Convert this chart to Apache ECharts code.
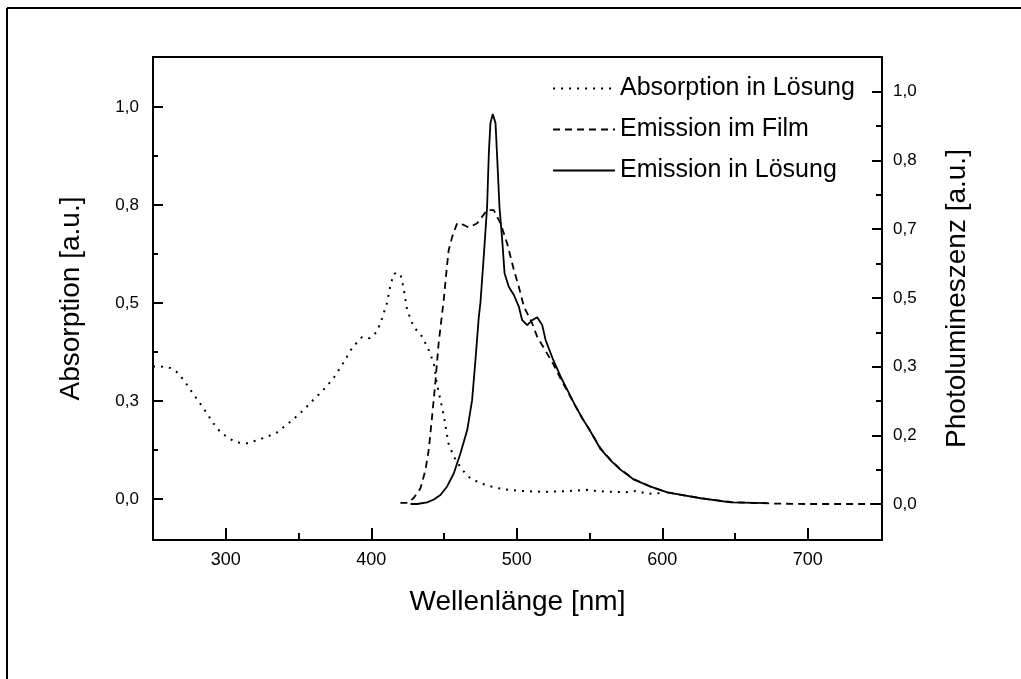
<!DOCTYPE html>
<html>
<head>
<meta charset="utf-8">
<script src="https://cdn.jsdelivr.net/npm/echarts@6/dist/echarts.min.js"></script>
<style>
    html, body { margin: 0; padding: 0; background: #fff; }
    #chart { width: 1021px; height: 679px; }
</style>
</head>
<body>
<div id="chart"></div>
<script>
    // Absorption in Lösung (linke Achse)
    var absX = [250, 255, 262, 266, 271, 278, 284.6, 291.5, 296, 301.8, 307.6, 314.5, 321, 328, 335, 345.5, 353.5, 359, 367, 374, 380, 386.8, 393.6, 399, 404, 407.4, 410.8, 413, 415.4, 418, 420.4, 422, 424.6, 429, 435, 439.5, 443, 445, 447.5, 450, 453, 456.7, 462.5, 468, 475, 482, 490, 500, 510, 520, 530, 540, 548, 555, 565, 575, 582, 590, 600];
    var absY = [0.338, 0.338, 0.334, 0.325, 0.304, 0.266, 0.232, 0.193, 0.172, 0.155, 0.144, 0.142, 0.149, 0.158, 0.169, 0.200, 0.227, 0.248, 0.278, 0.308, 0.342, 0.385, 0.413, 0.410, 0.427, 0.461, 0.500, 0.542, 0.574, 0.578, 0.568, 0.542, 0.483, 0.440, 0.414, 0.380, 0.346, 0.295, 0.253, 0.210, 0.142, 0.108, 0.074, 0.053, 0.040, 0.032, 0.025, 0.021, 0.019, 0.018, 0.019, 0.021, 0.023, 0.020, 0.018, 0.017, 0.020, 0.013, 0.015];

    // Emission im Film (rechte Achse)
    var filmX = [420, 425, 429, 433.8, 437.2, 439.5, 441.8, 444, 446.3, 449.8, 452, 453.2, 455.6, 459, 463.6, 467, 472.8, 479.6, 484.2, 488.8, 493.4, 498, 501.4, 504.9, 510.6, 514, 520, 525, 530, 535, 540, 545, 550, 557.6, 565, 571, 580.6, 592, 603.5, 615, 626.5, 647, 660, 676, 700, 750];
    var filmY = [0.003, 0.003, 0.014, 0.038, 0.082, 0.131, 0.212, 0.293, 0.390, 0.495, 0.576, 0.616, 0.648, 0.681, 0.677, 0.671, 0.681, 0.713, 0.713, 0.681, 0.632, 0.568, 0.527, 0.479, 0.438, 0.406, 0.370, 0.340, 0.305, 0.272, 0.240, 0.208, 0.180, 0.135, 0.105, 0.085, 0.060, 0.042, 0.028, 0.021, 0.014, 0.005, 0.003, 0.001, 0, 0];

    // Emission in Lösung (rechte Achse)
    var solX = [427, 431.5, 438.4, 443, 447.5, 452, 456.7, 461.3, 466, 469.3, 471.6, 473.9, 475, 477.3, 479.6, 480.8, 481.9, 483.5, 485.4, 486.5, 488.1, 490, 491.6, 494.5, 498, 501.4, 503.7, 507.2, 510.6, 514, 517.5, 519.8, 525, 530, 535, 540, 545, 550, 557.6, 565, 571, 580.6, 592, 603.5, 615, 626.5, 647, 672];
    var solY = [0, 0, 0.004, 0.011, 0.022, 0.042, 0.074, 0.123, 0.180, 0.252, 0.349, 0.454, 0.487, 0.600, 0.721, 0.851, 0.924, 0.946, 0.924, 0.843, 0.721, 0.640, 0.560, 0.527, 0.507, 0.479, 0.446, 0.434, 0.446, 0.453, 0.434, 0.398, 0.350, 0.310, 0.275, 0.240, 0.208, 0.180, 0.133, 0.104, 0.084, 0.059, 0.042, 0.028, 0.021, 0.014, 0.004, 0.002];

    // Achsenbeschriftung
    var xTicks = [300, 400, 500, 600, 700];
    var xMinorTicks = [350, 450, 550, 650];
    var absTicks = [0, 0.25, 0.5, 0.75, 1];
    var absTickLabels = ['0,0', '0,3', '0,5', '0,8', '1,0'];
    var absMinorTicks = [0.125, 0.375, 0.625, 0.875];
    var plTicks = [0, 1 / 6, 2 / 6, 3 / 6, 4 / 6, 5 / 6, 1];
    var plTickLabels = ['0,0', '0,2', '0,3', '0,5', '0,7', '0,8', '1,0'];
    var plMinorTicks = [1 / 12, 3 / 12, 5 / 12, 7 / 12, 9 / 12, 11 / 12];

    var seriesNames = ['Absorption in Lösung', 'Emission im Film', 'Emission in Lösung'];

    function zip(xs, ys) {
        return xs.map(function (x, i) { return [x, ys[i]]; });
    }
    function lookup(values, labels) {
        return function (v) {
            for (var i = 0; i < values.length; i++) {
                if (Math.abs(values[i] - v) < 1e-6) return labels[i];
            }
            return '';
        };
    }

    var font = '"Liberation Sans", Arial, sans-serif';
    var black = '#000';
    var axisLine = { show: true, onZero: false, lineStyle: { color: black, width: 2 } };
    var noLine = { show: false, onZero: false };
    var hidden = { show: false };

    var chart = echarts.init(document.getElementById('chart'));
    var option = {
        animation: false,
        backgroundColor: '#fff',
        textStyle: { fontFamily: font, color: black },
        grid: {
            left: 153, right: 139, top: 57, bottom: 139,
            show: true, borderColor: black, borderWidth: 2
        },
        graphic: [
            { type: 'line', shape: { x1: 7, y1: 8, x2: 7, y2: 679 }, style: { stroke: black, lineWidth: 2 } },
            { type: 'line', shape: { x1: 7, y1: 8, x2: 1021, y2: 8 }, style: { stroke: black, lineWidth: 2 } }
        ],
        legend: {
            data: seriesNames,
            orient: 'vertical',
            left: 547,
            top: 71,
            itemWidth: 62,
            itemHeight: 12,
            itemGap: 16,
            itemStyle: { opacity: 0 },
            textStyle: { fontFamily: font, fontSize: 25, color: black },
            inactiveColor: black
        },
        xAxis: [{
            type: 'value', position: 'bottom', min: 250, max: 751,
            name: 'Wellenlänge [nm]', nameLocation: 'middle', nameGap: 48,
            nameTextStyle: { fontFamily: font, fontSize: 28, color: black },
            axisLine: axisLine,
            axisTick: { show: true, inside: true, length: 12, customValues: xTicks, lineStyle: { color: black, width: 2 } },
            axisLabel: { customValues: xTicks, margin: 11, fontFamily: font, fontSize: 18, color: black },
            splitLine: hidden
        }, {
            type: 'value', position: 'bottom', min: 250, max: 751,
            axisLine: noLine,
            axisTick: { show: true, inside: true, length: 7, customValues: xMinorTicks, lineStyle: { color: black, width: 2 } },
            axisLabel: hidden,
            splitLine: hidden
        }],
        yAxis: [{
            type: 'value', position: 'left', min: -0.105, max: 1.128,
            name: 'Absorption [a.u.]', nameLocation: 'middle', nameGap: 68, nameRotate: 90,
            nameTextStyle: { fontFamily: font, fontSize: 28, color: black },
            axisLine: axisLine,
            axisTick: { show: true, inside: true, length: 10, customValues: absTicks, lineStyle: { color: black, width: 2 } },
            axisLabel: { customValues: absTicks, formatter: lookup(absTicks, absTickLabels), margin: 14, fontFamily: font, fontSize: 17, color: black },
            splitLine: hidden
        }, {
            type: 'value', position: 'left', min: -0.105, max: 1.128,
            axisLine: noLine,
            axisTick: { show: true, inside: true, length: 5, customValues: absMinorTicks, lineStyle: { color: black, width: 2 } },
            axisLabel: hidden,
            splitLine: hidden
        }, {
            type: 'value', position: 'right', min: -0.0873, max: 1.0844,
            name: 'Photolumineszenz [a.u.]', nameLocation: 'middle', nameGap: 61, nameRotate: 90,
            nameTextStyle: { fontFamily: font, fontSize: 28, color: black },
            axisLine: axisLine,
            axisTick: { show: true, inside: true, length: 10, customValues: plTicks, lineStyle: { color: black, width: 2 } },
            axisLabel: { customValues: plTicks, formatter: lookup(plTicks, plTickLabels), margin: 11, fontFamily: font, fontSize: 17, color: black },
            splitLine: hidden
        }, {
            type: 'value', position: 'right', min: -0.0873, max: 1.0844,
            axisLine: noLine,
            axisTick: { show: true, inside: true, length: 6, customValues: plMinorTicks, lineStyle: { color: black, width: 2 } },
            axisLabel: hidden,
            splitLine: hidden
        }],
        series: [{
            name: seriesNames[0], type: 'line', xAxisIndex: 0, yAxisIndex: 0,
            data: zip(absX, absY), symbol: 'none',
            lineStyle: { color: black, width: 2, type: [2, 6] },
            itemStyle: { color: black }
        }, {
            name: seriesNames[1], type: 'line', xAxisIndex: 0, yAxisIndex: 2,
            data: zip(filmX, filmY), symbol: 'none',
            lineStyle: { color: black, width: 1.8, type: [7, 5] },
            itemStyle: { color: black }
        }, {
            name: seriesNames[2], type: 'line', xAxisIndex: 0, yAxisIndex: 2,
            data: zip(solX, solY), symbol: 'none',
            lineStyle: { color: black, width: 1.8, type: 'solid' },
            itemStyle: { color: black }
        }]
    };
    chart.setOption(option);
    window.addEventListener('resize', chart.resize);
</script>
</body>
</html>
